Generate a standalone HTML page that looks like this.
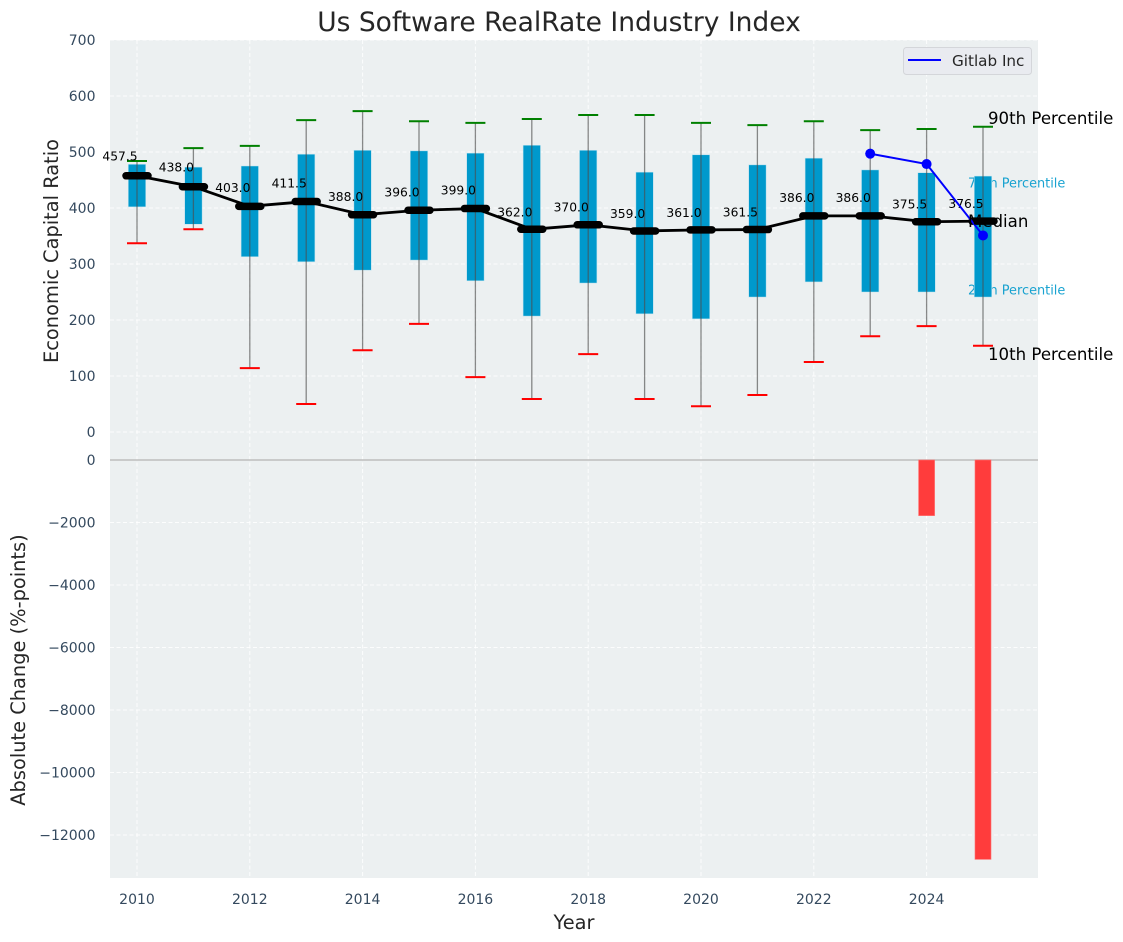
<!DOCTYPE html>
<html lang="en">
<head>
<meta charset="utf-8">
<title>Us Software RealRate Industry Index</title>
<style>
html,body{margin:0;padding:0;background:#fff;width:1123px;height:942px;overflow:hidden}
svg{display:block;font-family:"DejaVu Sans","Liberation Sans",sans-serif}
</style>
</head>
<body>
<svg id="chart" xmlns="http://www.w3.org/2000/svg" width="1123" height="942" viewBox="0 0 1123 942">
  <rect x="110" y="40" width="928" height="838" fill="#ecf0f1"/>
  <g id="grid"></g>
  <g id="annoLow"></g>
  <g id="top"></g>
  <g id="bars"></g>
  <g id="median"></g>
  <g id="gitlab"></g>
  <g id="annoHigh"></g>
  <g id="ticks"></g>
  <text x="559" y="31" font-size="26.5" text-anchor="middle" fill="#262626">Us Software RealRate Industry Index</text>
  <text x="574" y="929" font-size="19.4" text-anchor="middle" fill="#262626">Year</text>
  <text transform="translate(58 251) rotate(-90)" font-size="19.4" text-anchor="middle" fill="#262626">Economic Capital Ratio</text>
  <text transform="translate(25 670) rotate(-90)" font-size="19.4" text-anchor="middle" fill="#262626">Absolute Change (%-points)</text>
  <g>
    <rect x="903.5" y="47.5" width="128" height="27" rx="3" fill="#e9ebf0" stroke="#d4d6da"/>
    <line x1="908" y1="60" x2="941" y2="60" stroke="#0000ff" stroke-width="2"/>
    <text x="952" y="66" font-size="15.2" fill="#262626">Gitlab Inc</text>
  </g>
</svg>
<script>
const years = [2010,2011,2012,2013,2014,2015,2016,2017,2018,2019,2020,2021,2022,2023,2024,2025];
const p90 = [484,507,511,557,573,555,552,559,566,566,552,548,555,539,541,545];
const p75 = [478,473,475,496,503,502,498,512,503,464,495,477,489,468,463,457];
const medians = [457.5,438,403,411.5,388,396,399,362,370,359,361,361.5,386,386,375.5,376.5];
const p25 = [402,371,313,304,289,307,270,207,266,211,202,241,268,250,250,241];
const p10 = [337,362,114,50,146,193,98,59,139,59,46,66,125,171,189,154];
const gitlabYears = [2023,2024,2025];
const gitlabValues = [497,478.5,351];
const changeYears = [2024,2025];
const changeValues = [-1780,-12780];
const xTicks = [2010,2012,2014,2016,2018,2020,2022,2024];
const topTicks = [0,100,200,300,400,500,600,700];
const bottomTicks = [0,-2000,-4000,-6000,-8000,-10000,-12000];

const NS = 'http://www.w3.org/2000/svg';
const xScale = v => 137 + (v - 2010) * 56.4;
const yTop = v => 432 - v * 0.56;
const yBottom = v => 460 - v * 0.03125;
const medianLabelY = v => 428.4 - v * 0.586;

function make(parent, tag, attrs, content) {
  const el = document.createElementNS(NS, tag);
  for (const k in attrs) el.setAttribute(k, attrs[k]);
  if (content !== undefined) el.textContent = content;
  document.getElementById(parent).appendChild(el);
  return el;
}

const dash = {stroke:'#ffffff','stroke-width':1,'stroke-dasharray':'4 2.5','stroke-opacity':0.85};

xTicks.forEach(t => {
  let el = make('grid','line',Object.assign({x1:xScale(t),x2:xScale(t),y1:40,y2:878},dash));
  
  
  el = make('ticks','text',{x:xScale(t),y:904,'font-size':14,'text-anchor':'middle',fill:'#34495e'},String(t));
  
  
});
topTicks.forEach(t => {
  let el = make('grid','line',Object.assign({x1:110,x2:1038,y1:yTop(t),y2:yTop(t)},dash));
  
  
  el = make('ticks','text',{x:95.5,y:yTop(t)+5,'font-size':14,'text-anchor':'end',fill:'#34495e'},String(t));
  
  
});
bottomTicks.forEach(t => {
  let el = make('grid','line',Object.assign({x1:110,x2:1038,y1:yBottom(t),y2:yBottom(t)},dash));
  
  
  el = make('ticks','text',{x:95.5,y:yBottom(t)+5,'font-size':14,'text-anchor':'end',fill:'#34495e'},String(t).replace('-','\u2212'));
  
  
});
let zeroLine = make('grid','line',{x1:110,x2:1038,y1:yBottom(0),y2:yBottom(0),stroke:'#bdbdbd','stroke-width':1.5});



const last = years.length - 1;
const lastX = xScale(years[last]);
const bandLabels = [['75th Percentile', p75[last], 11.5],['25th Percentile', p25[last], -2.5]];
bandLabels.forEach(b => {
  const el = make('annoLow','text',{x:lastX-15,y:yTop(b[1])+b[2],'font-size':12.9,fill:'#0099cc','fill-opacity':0.9},b[0]);
  
  
});

years.forEach((yr, i) => {
  const x = xScale(yr);
  let el = make('top','rect',{x:x-8.7,y:yTop(p75[i]),width:17.4,height:yTop(p25[i])-yTop(p75[i]),fill:'#0099cc',stroke:'#bfe3ef','stroke-width':0.5});
  
  
  el = make('top','line',{x1:x,x2:x,y1:yTop(p90[i]),y2:yTop(p10[i]),stroke:'#4d4d4d','stroke-opacity':0.65,'stroke-width':1.3});
  
  
  el = make('top','line',{x1:x-10,x2:x+10,y1:yTop(p90[i]),y2:yTop(p90[i]),stroke:'#008000','stroke-width':2});
  
  
  el = make('top','line',{x1:x-10,x2:x+10,y1:yTop(p10[i]),y2:yTop(p10[i]),stroke:'#ff0000','stroke-width':2});
  
  
});

changeYears.forEach((yr, i) => {
  const el = make('bars','rect',{x:xScale(yr)-8,y:yBottom(0),width:16,height:yBottom(changeValues[i])-yBottom(0),fill:'#ff3c3c',stroke:'#ff7070','stroke-width':0.6});
  
  
});

let medianLine = make('median','polyline',{points:years.map((yr,i)=>xScale(yr)+','+yTop(medians[i])).join(' '),fill:'none',stroke:'#000','stroke-width':2.8});


years.forEach((yr, i) => {
  const x = xScale(yr), y = yTop(medians[i]);
  let el = make('median','line',{x1:x-11,x2:x+11,y1:y,y2:y,stroke:'#000','stroke-width':7.5,'stroke-linecap':'round'});
  
  
  el = make('median','text',{x:x-17,y:medianLabelY(medians[i]),'font-size':12.3,'text-anchor':'middle',fill:'#000'},medians[i].toFixed(1));
  
  
});

let gitlabLine = make('gitlab','polyline',{points:gitlabYears.map((yr,i)=>xScale(yr)+','+yTop(gitlabValues[i])).join(' '),fill:'none',stroke:'#0000ff','stroke-width':2});


gitlabYears.forEach((yr, i) => {
  const el = make('gitlab','circle',{cx:xScale(yr),cy:yTop(gitlabValues[i]),r:5,fill:'#0000ff'});
  
  
});

const lineLabels = [['90th Percentile', p90[last], 5, -3],['Median', medians[last], -15, 6],['10th Percentile', p10[last], 5, 14]];
lineLabels.forEach(l => {
  const el = make('annoHigh','text',{x:lastX+l[2],y:yTop(l[1])+l[3],'font-size':16.6,fill:'#000'},l[0]);
  
  
});
</script>
</body>
</html>
